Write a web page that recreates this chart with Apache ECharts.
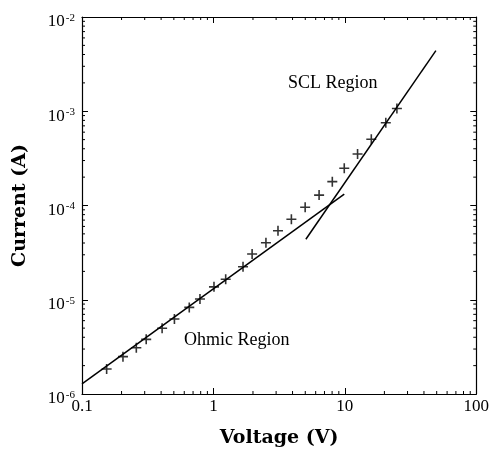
<!DOCTYPE html>
<html>
<head>
<meta charset="utf-8">
<script src="https://cdn.jsdelivr.net/npm/echarts@6/dist/echarts.min.js"></script>
<style>html,body{margin:0;padding:0;background:#fff}#c{width:492px;height:456px}</style>
</head>
<body>
<div id="c"></div>
<script>
// ---- data ----
const voltage = [0.154, 0.205, 0.259, 0.308, 0.407, 0.505, 0.655, 0.79, 1.01, 1.24, 1.68, 1.97, 2.51, 3.1, 3.92, 4.99, 6.37, 8.03, 9.9, 12.5, 15.9, 20.5, 24.9];
const current = [1.84e-6, 2.49e-6, 3.1e-6, 3.8e-6, 4.98e-6, 6.25e-6, 8.3e-6, 1.02e-5, 1.37e-5, 1.65e-5, 2.24e-5, 3.06e-5, 4.03e-5, 5.4e-5, 7.14e-5, 9.57e-5, 1.29e-4, 1.79e-4, 2.48e-4, 3.52e-4, 5.04e-4, 7.55e-4, 1.07e-3];
const ohmicFitV = [0.1, 9.9];
const ohmicFitI = [1.28e-6, 1.32e-4];
const sclFitV = [5.05, 49.3];
const sclFitI = [4.38e-5, 4.39e-3];
const xTickLabels = ['0.1', '1', '10', '100'];
const yTickExponents = ['-6', '-5', '-4', '-3', '-2'];
const xMinorTicks = [0.2,0.3,0.4,0.5,0.6,0.7,0.8,0.9,2,3,4,5,6,7,8,9,20,30,40,50,60,70,80,90];
const yMinorTicks = [2e-6,3e-6,4e-6,5e-6,6e-6,7e-6,8e-6,9e-6,2e-5,3e-5,4e-5,5e-5,6e-5,7e-5,8e-5,9e-5,2e-4,3e-4,4e-4,5e-4,6e-4,7e-4,8e-4,9e-4,2e-3,3e-3,4e-3,5e-3,6e-3,7e-3,8e-3,9e-3];

const FONT = "'Liberation Serif', 'Times New Roman', serif";
const TITLE_FONT = "'DejaVu Serif', 'Liberation Serif', serif";
const zip = (a, b) => a.map((v, i) => [v, b[i]]);

const chart = echarts.init(document.getElementById('c'), null, {renderer: 'canvas'});

function minorX(params, api) {
  const p = api.coord([api.value(0), 1e-4]);
  const cs = params.coordSys;
  const b = cs.y + cs.height;
  const st = {stroke: '#000', lineWidth: 1};
  return {type: 'group', children: [
    {type: 'line', shape: {x1: p[0], y1: b, x2: p[0], y2: b - 3}, style: st},
    {type: 'line', shape: {x1: p[0], y1: cs.y, x2: p[0], y2: cs.y + 3}, style: st}
  ]};
}
function minorY(params, api) {
  const p = api.coord([1, api.value(1)]);
  const cs = params.coordSys;
  const r = cs.x + cs.width;
  const st = {stroke: '#000', lineWidth: 1};
  return {type: 'group', children: [
    {type: 'line', shape: {x1: cs.x, y1: p[1], x2: cs.x + 3, y2: p[1]}, style: st},
    {type: 'line', shape: {x1: r, y1: p[1], x2: r - 3, y2: p[1]}, style: st}
  ]};
}

const axisCommon = {
  type: 'log', logBase: 10,
  splitLine: {show: false},
  axisLine: {show: true, lineStyle: {color: '#000', width: 1.2}},
  axisTick: {show: true, inside: true, length: 6, lineStyle: {color: '#000', width: 1}},
  minorTick: {show: false}
};

const option = {
  backgroundColor: '#fff',
  animation: false,
  grid: {left: 82, right: 13, top: 17, bottom: 62, containLabel: false},
  xAxis: [
    Object.assign({}, axisCommon, {
      min: 0.1, max: 100, position: 'bottom',
      name: 'Voltage (V)', nameLocation: 'middle', nameGap: 35,
      nameTextStyle: {fontFamily: TITLE_FONT, fontWeight: 'bold', fontSize: 19, color: '#000'},
      axisLabel: {
        margin: 4, fontFamily: FONT, fontSize: 17, color: '#000',
        formatter: v => xTickLabels[Math.round(Math.log10(v)) + 1]
      }
    }),
    Object.assign({}, axisCommon, {
      min: 0.1, max: 100, position: 'top', axisLabel: {show: false}
    })
  ],
  yAxis: [
    Object.assign({}, axisCommon, {
      min: 1e-6, max: 1e-2, position: 'left',
      name: 'Current (A)', nameLocation: 'middle', nameGap: 52, nameRotate: 90,
      nameTextStyle: {fontFamily: TITLE_FONT, fontWeight: 'bold', fontSize: 19, color: '#000'},
      axisLabel: {
        margin: 7, fontFamily: FONT, fontSize: 17, color: '#000',
        formatter: v => '{b|10}{s|' + yTickExponents[Math.round(Math.log10(v)) + 6] + '}',
        rich: {
          b: {fontFamily: FONT, fontSize: 17, color: '#000', padding: [10, 1, 0, 0]},
          s: {fontFamily: FONT, fontSize: 11, color: '#000', padding: [9, 0, 0, 0], verticalAlign: 'top'}
        }
      }
    }),
    Object.assign({}, axisCommon, {
      min: 1e-6, max: 1e-2, position: 'right', axisLabel: {show: false}
    })
  ],
  graphic: [
    {type: 'text', left: 288, top: 74, style: {text: 'SCL Region', fontFamily: FONT, fontSize: 18, fill: '#000'}},
    {type: 'text', left: 184, top: 331, style: {text: 'Ohmic Region', fontFamily: FONT, fontSize: 18, fill: '#000'}}
  ],
  series: [
    {type: 'custom', renderItem: minorX, data: xMinorTicks.map(v => [v, 1e-4]), silent: true, clip: false, xAxisIndex: 0, yAxisIndex: 0},
    {type: 'custom', renderItem: minorY, data: yMinorTicks.map(v => [1, v]), silent: true, clip: false, xAxisIndex: 0, yAxisIndex: 0},
    {type: 'line', data: zip(ohmicFitV, ohmicFitI), showSymbol: false, lineStyle: {color: '#000', width: 1.5}, silent: true},
    {type: 'line', data: zip(sclFitV, sclFitI), showSymbol: false, lineStyle: {color: '#000', width: 1.5}, silent: true},
    {type: 'scatter', data: zip(voltage, current), symbol: 'path://M0,5L10,5M5,0L5,10', symbolSize: 10,
     itemStyle: {color: 'none', borderColor: '#000', borderWidth: 1.6}, silent: true}
  ]
};
chart.setOption(option);
</script>
</body>
</html>
